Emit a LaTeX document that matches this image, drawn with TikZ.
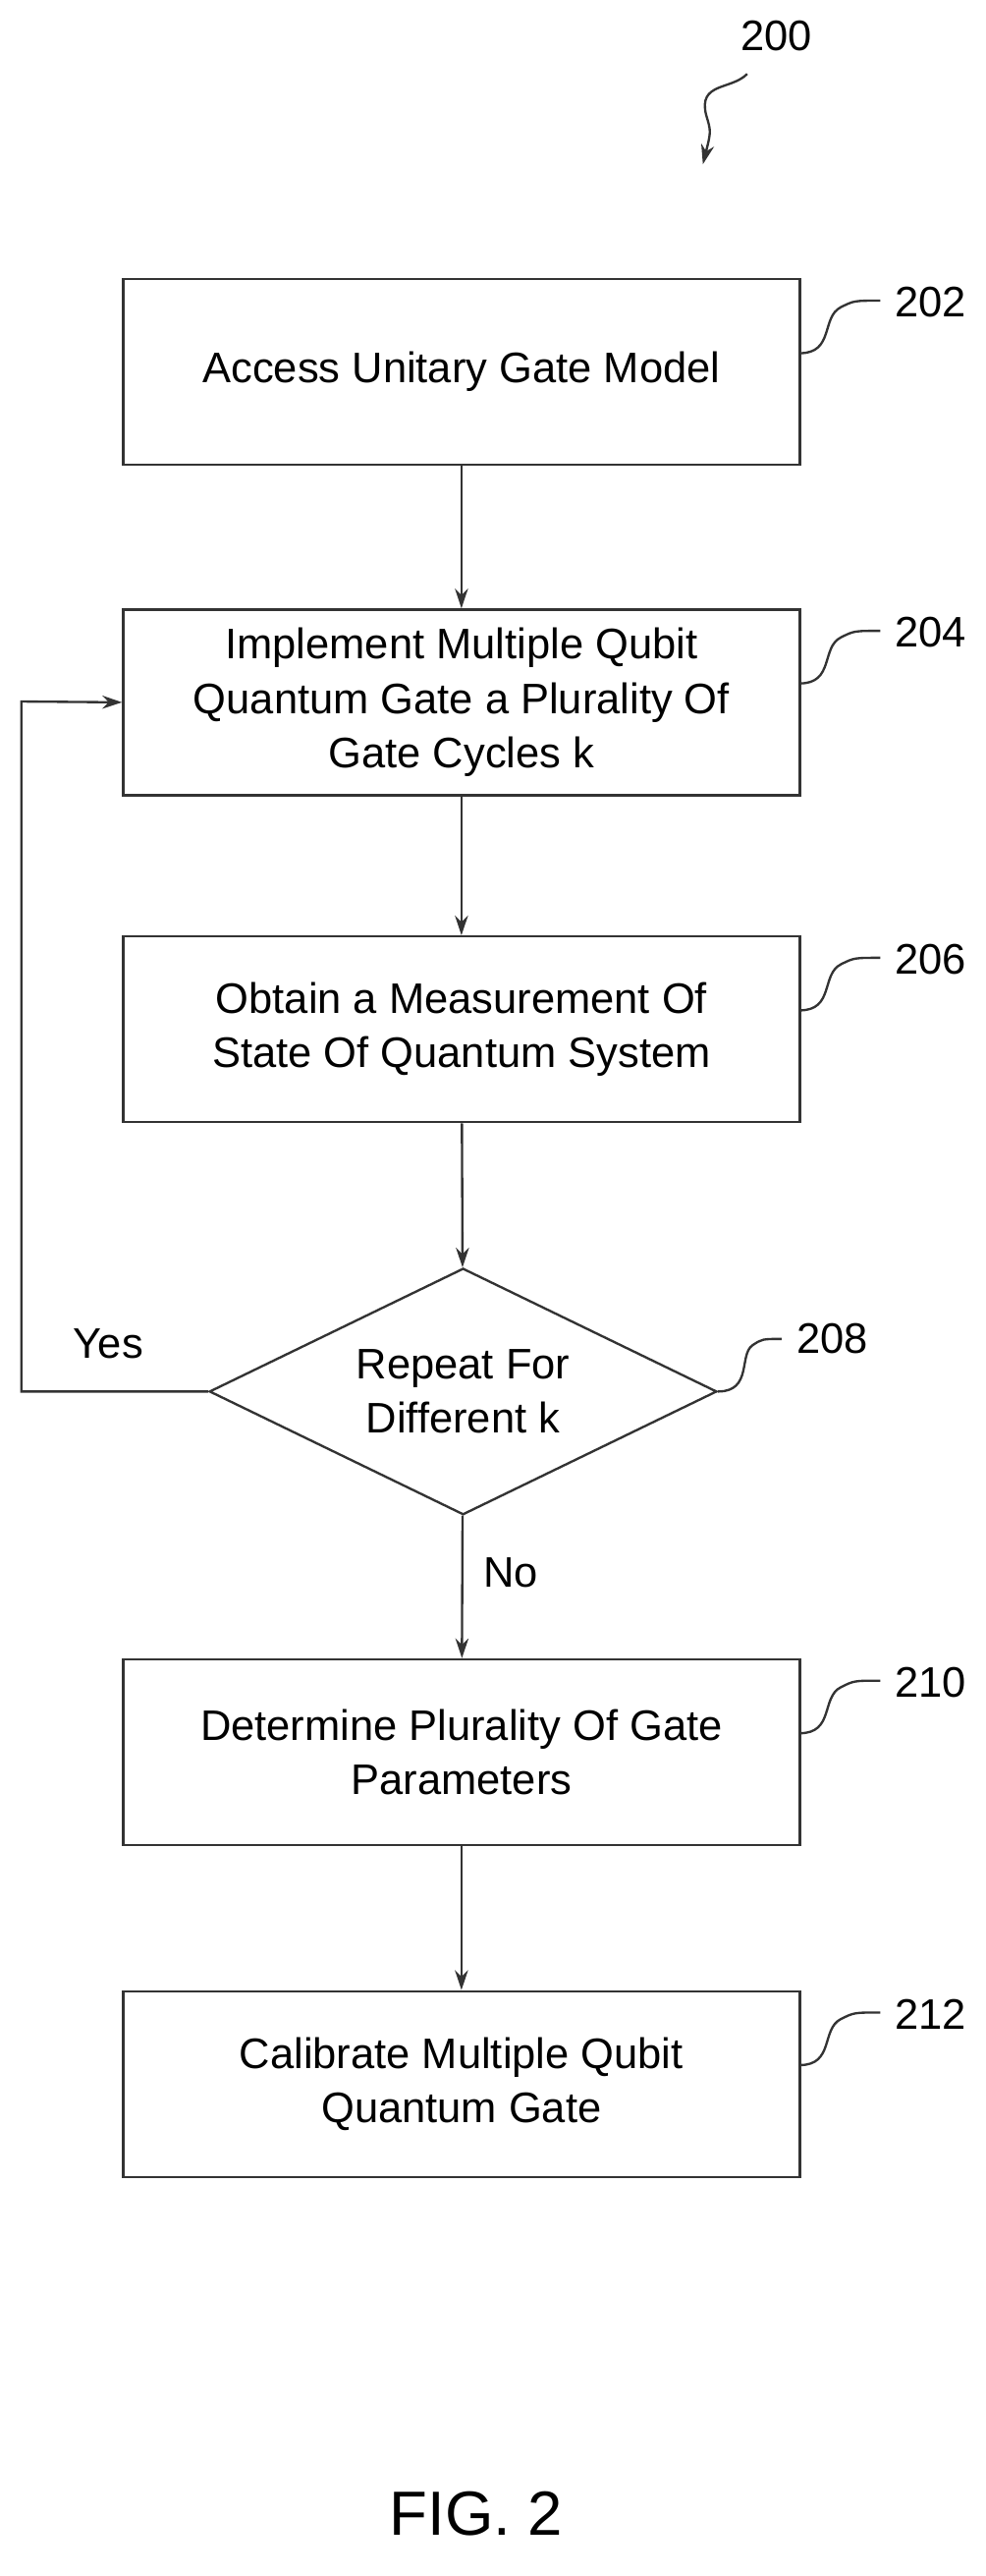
\documentclass[tikz,border=0pt]{standalone}
\usepackage{fontspec}
\setmainfont{Liberation Sans}
\usetikzlibrary{shapes.geometric,arrows.meta}
\begin{document}
\begin{tikzpicture}[x=0.5pt,y=-0.5pt,
  box/.style={draw=black!80,line width=0.7pt,minimum width=206pt,minimum height=56.5pt,align=center,font=\fontsize{13}{16.5}\selectfont},
  dia/.style={draw=black!80,line width=0.7pt,diamond,aspect=2.06,minimum width=154.5pt,minimum height=75pt,align=center,inner sep=0pt,font=\fontsize{13}{16.5}\selectfont},
  arr/.style={draw=black!80,line width=0.7pt,-{Stealth[length=6pt,width=4pt]}},
  lead/.style={draw=black!80,line width=0.7pt},
  ref/.style={font=\fontsize{13}{15}\selectfont,anchor=west},
  lbl/.style={font=\fontsize{13}{15}\selectfont}]
\useasboundingbox (0,0) rectangle (600,1568);
\node[box] (b202) at (281,226.5) {Access Unitary Gate Model};
\node[box] (b204) at (281,427.5) {Implement Multiple Qubit\\Quantum Gate a Plurality Of\\Gate Cycles k};
\node[box] (b206) at (281,626.5) {Obtain a Measurement Of\\State Of Quantum System};
\node[dia] (d208) at (282,847) {Repeat For\\Different k};
\node[box] (b210) at (281,1066.5) {Determine Plurality Of Gate\\Parameters};
\node[box] (b212) at (281,1268.5) {Calibrate Multiple Qubit\\Quantum Gate};
\draw[arr] (b202) -- (b204);
\draw[arr] (b204) -- (b206);
\draw[arr] (b206) -- (d208);
\draw[arr] (d208) -- (b210);
\draw[arr] (b210) -- (b212);
\coordinate (c1) at (13,847);
\coordinate (c2) at (13,427);
\draw[arr] (d208.west) -- (c1) -- (c2) -- (b204.west);
\node[lbl] (yes) at (66,818) {Yes};
\node[lbl] (no) at (311,957) {No};
\node[font=\fontsize{19}{22}\selectfont] (fig) at (290,1530) {FIG. 2};
\node[ref] (r200) at (444,22) {200};
\coordinate (a200) at (428,100);
\draw[arr] (455,45) .. controls (445,55) and (425,50) .. (430,70) .. controls (433,80) .. (a200);
\foreach \n/\y in {202/215,204/416,206/615,210/1055,212/1257}{
  \node[ref] (r\n) at (538,\y-31) {\n};
}
\node[ref] (r208) at (478,815) {208};
\foreach \y in {215,416,615,1055,1257}{
  \draw[lead] (487,\y) .. controls (508,\y) and (500,\y-22) .. (512,\y-28) .. controls (520,\y-32) .. (536,\y-32);
}
\draw[lead] (d208.east) .. controls (458,847) and (450,825) .. (458,819) .. controls (464,815) .. (476,815);
\end{tikzpicture}
\end{document}
